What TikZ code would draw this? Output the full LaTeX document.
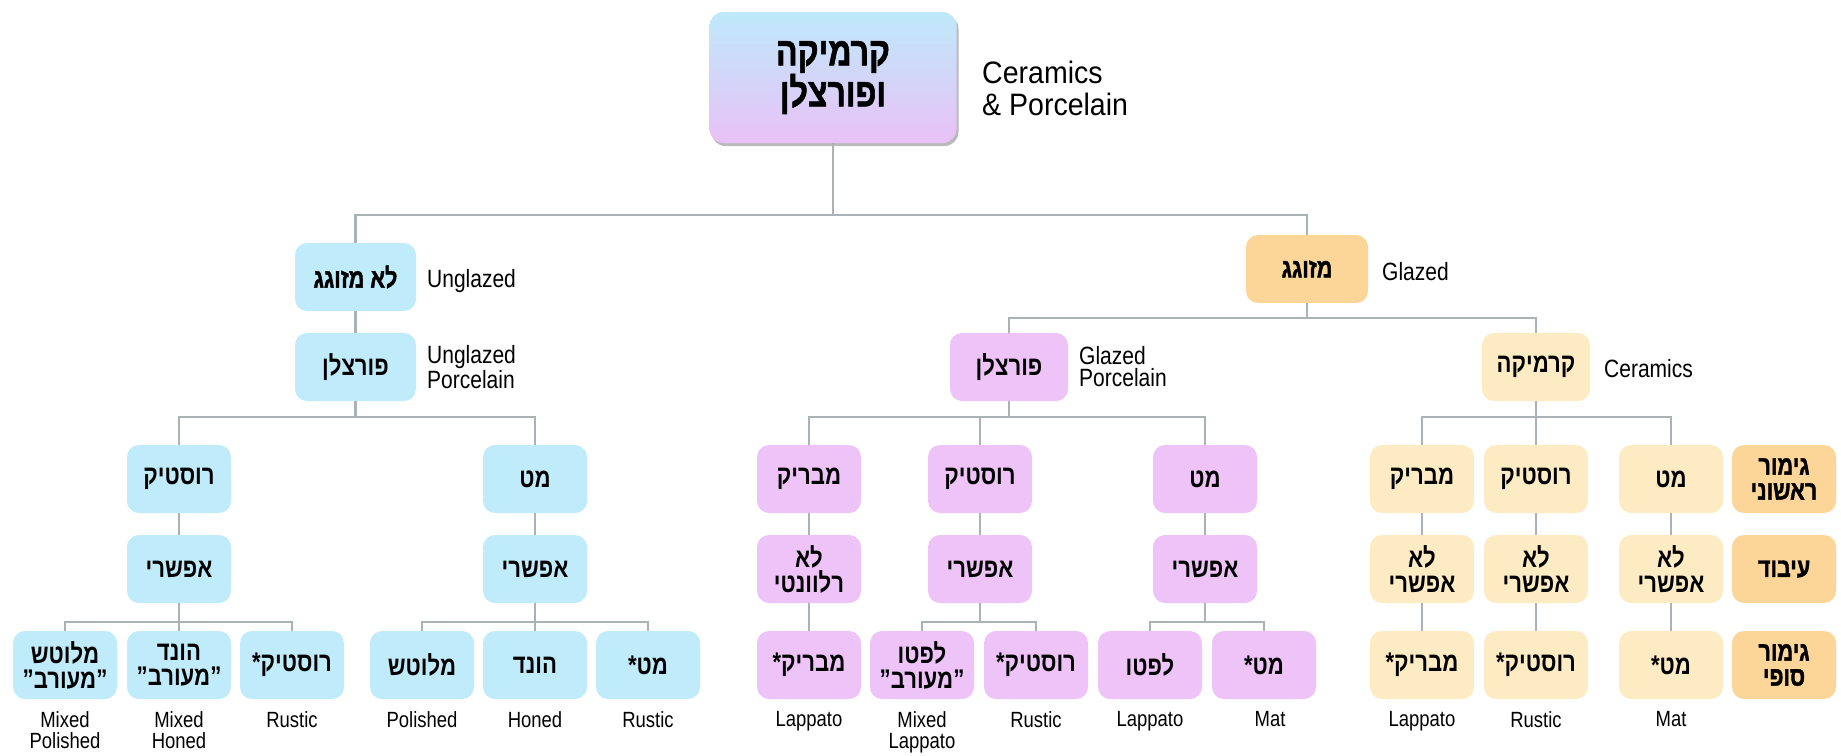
\documentclass[tikz,border=0pt]{standalone}
\usepackage{fontspec}
\setmainfont{Liberation Sans}
\newfontfamily\hebfont[Script=Hebrew,FakeStretch=0.82]{Liberation Sans}
\newfontfamily\hebheavy[Script=Hebrew,FakeStretch=0.8,FakeBold=1.5]{Liberation Sans}
\newfontfamily\labfont[FakeStretch=0.84]{Liberation Sans}
\newfontfamily\titlefont[FakeStretch=0.92]{Liberation Sans}
\TeXXeTstate=1
\usetikzlibrary{shadows}
\newcommand\HB[1]{\beginR#1\endR}
\definecolor{cblue}{HTML}{BFEBFA}
\definecolor{cpink}{HTML}{EEC3F7}
\definecolor{ccream}{HTML}{FDEBC4}
\definecolor{corange}{HTML}{FCD698}
\definecolor{cline}{HTML}{A9B3B5}
\definecolor{rtop}{HTML}{BEE9FA}
\definecolor{rbot}{HTML}{E9C1F6}
\tikzset{
  box/.style={rounded corners=12pt, minimum width=104pt, minimum height=68pt, inner sep=0pt, align=center, font=\hebfont\bfseries\fontsize{27}{25}\selectfont},
  bbox/.style={box, fill=cblue},
  pbox/.style={box, fill=cpink},
  cbox/.style={box, fill=ccream},
  obox/.style={box, fill=corange, font=\hebheavy\bfseries\fontsize{27}{25}\selectfont},
  conn/.style={draw=cline, line width=2.6pt},
  lab/.style={font=\labfont\fontsize{25}{22}\selectfont, inner sep=0pt, align=left},
  blab/.style={font=\labfont\fontsize{22}{21}\selectfont, inner sep=0pt, align=center, anchor=north},
}
\begin{document}
\begin{tikzpicture}[x=1pt,y=-1pt]
\useasboundingbox (0,0) rectangle (1841,755);
% root
\node[rounded corners=14pt, minimum width=247pt, minimum height=131pt, inner sep=0pt, align=center,
      top color=rtop, bottom color=rbot,
      drop shadow={shadow xshift=2pt, shadow yshift=-3pt, fill=black!60, opacity=0.45},
      font=\hebheavy\bfseries\fontsize{40}{32}\selectfont] (root) at (833,77.5) {\HB{קרמיקה}\\\HB{ופורצלן}};
\node[font=\titlefont\fontsize{31}{32}\selectfont, inner sep=0pt, align=left, anchor=west] (rootlab) at (982,88) {Ceramics\\\& Porcelain};

% level 1
\node[bbox, minimum width=121pt, font=\hebheavy\bfseries\fontsize{27}{25}\selectfont] (ung) at (355.5,277) {\HB{לא מזוגג}};
\node[box, fill=corange, minimum width=122pt, font=\hebheavy\bfseries\fontsize{27}{25}\selectfont] (gla) at (1307,269) {\HB{מזוגג}};
\node[lab, anchor=base west] (unglab) at (427,287) {Unglazed};
\node[lab, anchor=base west] (glalab) at (1382,280) {Glazed};
\coordinate (j1) at (833,215);
\draw[conn] (root.south) -- (j1);
\draw[conn] (ung.north) |- (j1) -| (gla.north);

% level 2
\node[bbox, minimum width=121pt] (ungp) at (355.5,367) {\HB{פורצלן}};
\node[lab, anchor=west] (ungplab) at (427,367) {Unglazed\\Porcelain};
\draw[conn] (ung.south) -- (ungp.north);
\node[pbox, minimum width=118pt] (gp) at (1009,367) {\HB{פורצלן}};
\node[lab, anchor=west] (gplab) at (1079,367) {Glazed\\Porcelain};
\node[cbox, minimum width=108pt] (cer) at (1536,367) {\HB{קרמיקה}};
\node[lab, anchor=base west] (cerlab) at (1604,377) {Ceramics};
\coordinate (j2) at (1307,318);
\draw[conn] (gla.south) -- (j2);
\draw[conn] (gp.north) |- (j2) -| (cer.north);

% ---------- unglazed branch ----------
\node[bbox] (b1c) at (179,479) {\HB{רוסטיק}};
\node[bbox] (b2c) at (535,479) {\HB{מט}};
\coordinate (j3) at (355.5,417);
\draw[conn] (ungp.south) -- (j3);
\draw[conn] (b1c.north) |- (j3) -| (b2c.north);
\node[bbox] (b1d) at (179,569) {\HB{אפשרי}};
\node[bbox] (b2d) at (535,569) {\HB{אפשרי}};
\draw[conn] (b1c.south) -- (b1d.north);
\draw[conn] (b2c.south) -- (b2d.north);
\node[bbox] (b1e1) at (65,665) {\HB{מלוטש}\\\HB{”מעורב”}};
\node[bbox] (b1e2) at (179,665) {\HB{הונד}\\\HB{”מעורב”}};
\node[bbox] (b1e3) at (292,665) {\HB{רוסטיק*}};
\node[bbox] (b2e1) at (422,665) {\HB{מלוטש}};
\node[bbox] (b2e2) at (535,665) {\HB{הונד}};
\node[bbox] (b2e3) at (648,665) {\HB{מט*}};
\coordinate (j4) at (179,622);
\coordinate (j5) at (535,622);
\draw[conn] (b1d.south) -- (j4);
\draw[conn] (b1e1.north) |- (j4) -| (b1e3.north);
\draw[conn] (j4) -- (b1e2.north);
\draw[conn] (b2d.south) -- (j5);
\draw[conn] (b2e1.north) |- (j5) -| (b2e3.north);
\draw[conn] (j5) -- (b2e2.north);
\node[blab] (l1) at (65,711) {Mixed\\Polished};
\node[blab] (l2) at (179,711) {Mixed\\Honed};
\node[blab] (l3) at (292,711) {Rustic};
\node[blab] (l4) at (422,711) {Polished};
\node[blab] (l5) at (535,711) {Honed};
\node[blab] (l6) at (648,711) {Rustic};

% ---------- glazed porcelain branch ----------
\node[pbox] (p1c) at (809,479) {\HB{מבריק}};
\node[pbox] (p2c) at (980,479) {\HB{רוסטיק}};
\node[pbox] (p3c) at (1205,479) {\HB{מט}};
\coordinate (j6) at (1009,417);
\draw[conn] (gp.south) -- (j6);
\draw[conn] (p1c.north) |- (j6) -| (p3c.north);
\draw[conn] (p2c.north) -- (p2c.north |- j6);
\node[pbox] (p1d) at (809,569) {\HB{לא}\\\HB{רלוונטי}};
\node[pbox] (p2d) at (980,569) {\HB{אפשרי}};
\node[pbox] (p3d) at (1205,569) {\HB{אפשרי}};
\draw[conn] (p1c.south) -- (p1d.north);
\draw[conn] (p2c.south) -- (p2d.north);
\draw[conn] (p3c.south) -- (p3d.north);
\node[pbox] (p1e) at (809,665) {\HB{מבריק*}};
\node[pbox] (p2e1) at (922,665) {\HB{לפטו}\\\HB{”מעורב”}};
\node[pbox] (p2e2) at (1036,665) {\HB{רוסטיק*}};
\node[pbox] (p3e1) at (1150,665) {\HB{לפטו}};
\node[pbox] (p3e2) at (1264,665) {\HB{מט*}};
\draw[conn] (p1d.south) -- (p1e.north);
\coordinate (j7) at (980,622);
\coordinate (j8) at (1205,622);
\draw[conn] (p2d.south) -- (j7);
\draw[conn] (p2e1.north) |- (j7) -| (p2e2.north);
\draw[conn] (p3d.south) -- (j8);
\draw[conn] (p3e1.north) |- (j8) -| (p3e2.north);
\node[blab] (l7) at (809,711) {Lappato};
\node[blab] (l8) at (922,711) {Mixed\\Lappato};
\node[blab] (l9) at (1036,711) {Rustic};
\node[blab] (l10) at (1150,711) {Lappato};
\node[blab] (l11) at (1270,711) {Mat};

% ---------- ceramics branch ----------
\node[cbox] (c1c) at (1422,479) {\HB{מבריק}};
\node[cbox] (c2c) at (1536,479) {\HB{רוסטיק}};
\node[cbox] (c3c) at (1671,479) {\HB{מט}};
\coordinate (j9) at (1536,417);
\draw[conn] (cer.south) -- (j9);
\draw[conn] (c1c.north) |- (j9) -| (c3c.north);
\draw[conn] (j9) -- (c2c.north);
\node[cbox] (c1d) at (1422,569) {\HB{לא}\\\HB{אפשרי}};
\node[cbox] (c2d) at (1536,569) {\HB{לא}\\\HB{אפשרי}};
\node[cbox] (c3d) at (1671,569) {\HB{לא}\\\HB{אפשרי}};
\draw[conn] (c1c.south) -- (c1d.north);
\draw[conn] (c2c.south) -- (c2d.north);
\draw[conn] (c3c.south) -- (c3d.north);
\node[cbox] (c1e) at (1422,665) {\HB{מבריק*}};
\node[cbox] (c2e) at (1536,665) {\HB{רוסטיק*}};
\node[cbox] (c3e) at (1671,665) {\HB{מט*}};
\draw[conn] (c1d.south) -- (c1e.north);
\draw[conn] (c2d.south) -- (c2e.north);
\draw[conn] (c3d.south) -- (c3e.north);
\node[blab] (l12) at (1422,711) {Lappato};
\node[blab] (l13) at (1536,711) {Rustic};
\node[blab] (l14) at (1671,711) {Mat};

% ---------- side labels ----------
\node[obox] (s1) at (1784,479) {\HB{גימור}\\\HB{ראשוני}};
\node[obox] (s2) at (1784,569) {\HB{עיבוד}};
\node[obox] (s3) at (1784,665) {\HB{גימור}\\\HB{סופי}};
\end{tikzpicture}
\end{document}
